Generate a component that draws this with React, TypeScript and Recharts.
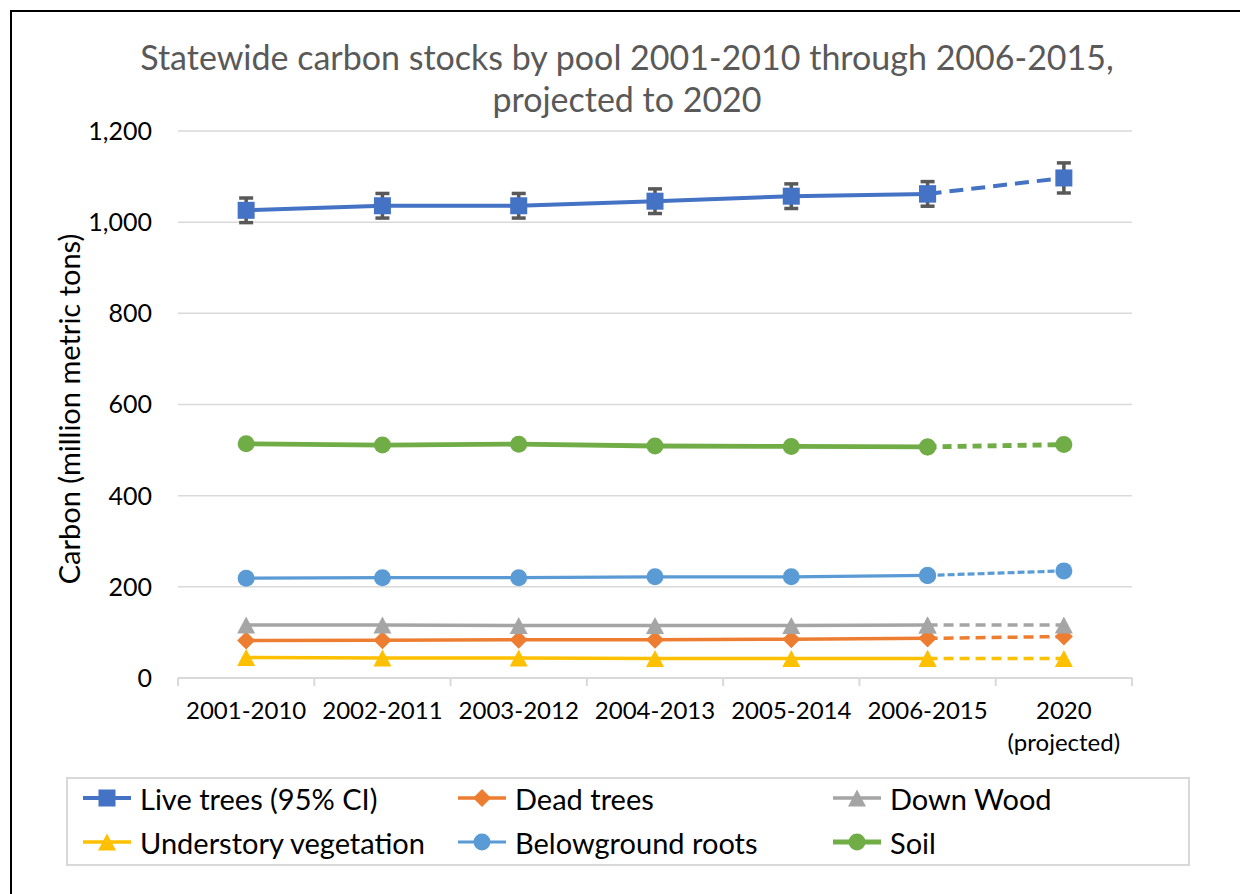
import React from 'react';
import { LineChart, Line, XAxis, YAxis, CartesianGrid, ErrorBar } from 'recharts';

const categories = ['2001-2010', '2002-2011', '2003-2012', '2004-2013', '2005-2014', '2006-2015', '2020\n(projected)'];
const liveTrees = [1026, 1036, 1036, 1046, 1057, 1062, 1097];
const liveTreesCI = [27, 27, 27, 27, 27, 27, 33];
const deadTrees = [82, 83, 84, 84, 85, 87, 91];
const downWood = [116, 116, 115, 115, 115, 116, 116];
const understory = [45, 44, 44, 43, 43, 43, 43];
const roots = [219, 220, 220, 222, 222, 225, 235];
const soil = [514, 511, 513, 509, 508, 507, 512];
const yTicks = [0, 200, 400, 600, 800, 1000, 1200];
const xBoundaries = [0, 1, 2, 3, 4, 5, 6, 7];
const PROJ_INDEX = 6;

const FONT = 'Lato, "Open Sans", sans-serif';

const seriesDefs = [
  { key: 'live', name: 'Live trees (95% CI)', values: liveTrees, color: '#4472C4', width: 4, dash: '14 8', shape: 'square' },
  { key: 'dead', name: 'Dead trees', values: deadTrees, color: '#ED7D31', width: 3.5, dash: '10 6', shape: 'diamond' },
  { key: 'down', name: 'Down Wood', values: downWood, color: '#A5A5A5', width: 3.5, dash: '10 6', shape: 'triangle' },
  { key: 'under', name: 'Understory vegetation', values: understory, color: '#FFC000', width: 3.5, dash: '10 6', shape: 'triangle' },
  { key: 'roots', name: 'Belowground roots', values: roots, color: '#5B9BD5', width: 3.2, dash: '7 3', shape: 'circle' },
  { key: 'soil', name: 'Soil', values: soil, color: '#70AD47', width: 4.8, dash: '9 6', shape: 'circle' },
];

const data = categories.map((c, i) => {
  const row: any = { x: i + 0.5, cat: c, liveAll: liveTrees[i], liveErr: liveTreesCI[i] };
  seriesDefs.forEach((s) => {
    row[s.key] = i < PROJ_INDEX ? s.values[i] : null;
    row[s.key + 'P'] = i >= PROJ_INDEX - 1 ? s.values[i] : null;
  });
  return row;
});

function Marker({ shape, color, cx, cy }: any) {
  if (cx == null || cy == null || isNaN(cx) || isNaN(cy)) return <g />;
  if (shape === 'square') return <rect x={cx - 8.5} y={cy - 8.5} width={17} height={17} fill={color} />;
  if (shape === 'diamond')
    return <polygon points={`${cx},${cy - 9} ${cx + 9},${cy} ${cx},${cy + 9} ${cx - 9},${cy}`} fill={color} />;
  if (shape === 'triangle')
    return <polygon points={`${cx},${cy - 8.5} ${cx + 9},${cy + 8.5} ${cx - 9},${cy + 8.5}`} fill={color} />;
  return <circle cx={cx} cy={cy} r={8.5} fill={color} />;
}

const STEP = 954 / 7;

function XTick(props: any) {
  const { x, y, payload } = props;
  const v = payload.value;
  if (v >= 7) return <g />;
  const label = categories[v];
  const lines = label.split('\n');
  return (
    <text x={x + STEP / 2} y={y} textAnchor="middle" fontFamily={FONT} fontSize={24} fill="#000">
      {lines.map((l: string, i: number) => (
        <tspan key={i} x={x + STEP / 2} dy={i === 0 ? 31 : 32}>
          {l}
        </tspan>
      ))}
    </text>
  );
}

function LegendIcon({ s }: any) {
  return (
    <svg width={50} height={24} style={{ display: 'block' }}>
      <line x1={1} y1={12} x2={49} y2={12} stroke={s.color} strokeWidth={s.width} />
      <Marker shape={s.shape} color={s.color} cx={25} cy={12} />
    </svg>
  );
}

export default function App() {
  return (
    <div style={{ position: 'relative', width: 1240, height: 886, overflow: 'hidden', fontFamily: FONT, background: '#fff' }}>
      <div
        style={{
          position: 'absolute',
          left: 2,
          top: 2,
          width: 1300,
          height: 1000,
          borderLeft: '2px solid #000',
          borderTop: '2px solid #000',
        }}
      />
      <div
        style={{
          position: 'absolute',
          left: 0,
          width: 1238,
          top: 28,
          textAlign: 'center',
          color: '#595959',
          fontSize: 34,
          lineHeight: '42px',
        }}
      >
        Statewide carbon stocks by pool 2001-2010 through 2006-2015,
        <br />
        projected to 2020
      </div>
      <div
        style={{
          position: 'absolute',
          left: 60,
          top: 401,
          transform: 'translate(-50%, -50%) rotate(-90deg)',
          whiteSpace: 'nowrap',
          fontSize: 29,
          color: '#000',
        }}
      >
        Carbon (million metric tons)
      </div>
      <div style={{ position: 'absolute', left: 0, top: 0 }}>
        <LineChart width={1240} height={886} data={data} margin={{ top: 123, right: 116, bottom: 136, left: 100 }}>
          <CartesianGrid horizontal vertical={false} stroke="#d9d9d9" strokeWidth={1.5} />
          <XAxis
            dataKey="x"
            type="number"
            domain={[0, 7]}
            ticks={xBoundaries}
            interval={0}
            height={80}
            axisLine={{ stroke: '#d9d9d9', strokeWidth: 2 }}
            tickLine={{ stroke: '#d9d9d9', strokeWidth: 2 }}
            tickSize={8}
            tick={<XTick />}
          />
          <YAxis
            domain={[0, 1200]}
            ticks={yTicks}
            width={70}
            axisLine={false}
            tickLine={false}
            tickSize={6}
            tickMargin={20}
            tickFormatter={(v: number) => v.toLocaleString('en-US')}
            tick={{ fontSize: 25, fill: '#000', fontFamily: FONT }}
          />
          <Line
            dataKey="liveAll"
            stroke="none"
            dot={false}
            activeDot={false}
            isAnimationActive={false}
            legendType="none"
          >
            <ErrorBar dataKey="liveErr" width={7} stroke="#595959" strokeWidth={3.5} direction="y" />
          </Line>
          {seriesDefs.map((s) => (
            <Line
              key={s.key}
              dataKey={s.key}
              name={s.name}
              stroke={s.color}
              strokeWidth={s.width}
              connectNulls={false}
              isAnimationActive={false}
              activeDot={false}
              dot={(p: any) => <Marker key={`${s.key}-${p.index}`} shape={s.shape} color={s.color} cx={p.cx} cy={p.cy} />}
            />
          ))}
          {seriesDefs.map((s) => (
            <Line
              key={s.key + 'P'}
              dataKey={s.key + 'P'}
              name={s.name + ' (projected)'}
              stroke={s.color}
              strokeWidth={s.width}
              strokeDasharray={s.dash}
              connectNulls={false}
              isAnimationActive={false}
              activeDot={false}
              dot={(p: any) => <Marker key={`${s.key}P-${p.index}`} shape={s.shape} color={s.color} cx={p.cx} cy={p.cy} />}
            />
          ))}
        </LineChart>
      </div>
      <div
        style={{
          position: 'absolute',
          left: 58,
          top: 769,
          width: 1124,
          height: 89,
          border: '2px solid #d9d9d9',
          boxSizing: 'border-box',
        }}
      >
        {seriesDefs.map((s, i) => {
          const col = i % 3;
          const row = Math.floor(i / 3);
          return (
            <div
              key={s.key}
              style={{
                position: 'absolute',
                left: 14 + col * 375,
                top: 4 + row * 44,
                height: 30,
                display: 'flex',
                alignItems: 'center',
                whiteSpace: 'nowrap',
                fontSize: 29,
                color: '#000',
              }}
            >
              <LegendIcon s={s} />
              <span style={{ marginLeft: 8 }}>{s.name}</span>
            </div>
          );
        })}
      </div>
    </div>
  );
}
